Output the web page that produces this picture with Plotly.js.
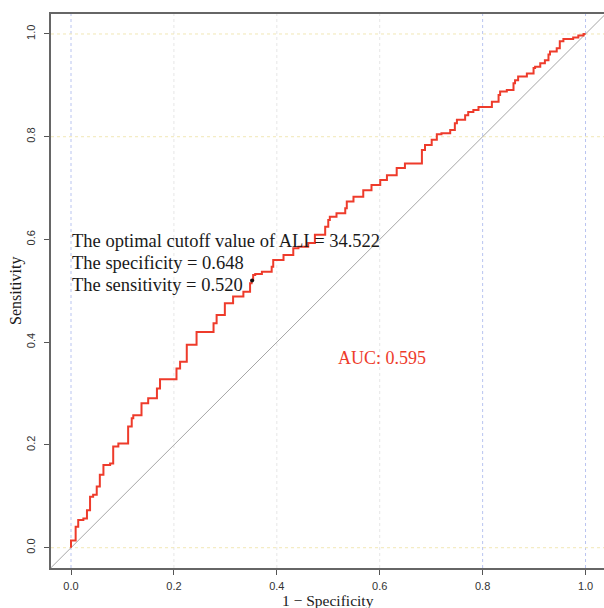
<!DOCTYPE html>
<html>
<head>
<meta charset="utf-8">
<script src="https://cdn.plot.ly/plotly-3.0.1.min.js"></script>
<style>html,body{margin:0;padding:0;background:#fff;overflow:hidden}</style>
</head>
<body>
<div id="chart" style="width:604px;height:608px"></div>
<script>
// ROC curve: 1 - specificity (x) and sensitivity (y)
const fpr = [0,0,0.009,0.009,0.014,0.024,0.031,0.037,0.043,0.050,0.056,0.063,0.076,0.082,0.092,0.111,0.118,0.121,0.137,0.150,0.167,0.173,0.185,0.205,0.212,0.225,0.244,0.264,0.277,0.283,0.299,0.315,0.335,0.348,0.351,0.354,0.358,0.371,0.390,0.393,0.413,0.432,0.442,0.461,0.474,0.494,0.500,0.503,0.516,0.533,0.536,0.549,0.568,0.584,0.601,0.614,0.633,0.649,0.662,0.682,0.688,0.701,0.711,0.720,0.737,0.746,0.750,0.766,0.772,0.782,0.792,0.795,0.818,0.831,0.834,0.847,0.860,0.863,0.869,0.886,0.899,0.902,0.912,0.921,0.928,0.931,0.944,0.950,0.957,0.976,0.986,0.996,1.0];
const tpr = [0,0.014,0.014,0.034,0.041,0.054,0.057,0.073,0.099,0.103,0.119,0.142,0.161,0.164,0.197,0.203,0.236,0.252,0.258,0.281,0.291,0.310,0.328,0.328,0.349,0.362,0.395,0.420,0.420,0.437,0.453,0.476,0.489,0.498,0.515,0.521,0.531,0.533,0.537,0.547,0.560,0.570,0.583,0.586,0.593,0.609,0.625,0.638,0.644,0.651,0.661,0.674,0.683,0.696,0.706,0.716,0.725,0.739,0.748,0.748,0.774,0.784,0.794,0.805,0.807,0.813,0.826,0.833,0.842,0.848,0.852,0.858,0.858,0.868,0.881,0.888,0.891,0.904,0.910,0.917,0.923,0.934,0.936,0.943,0.949,0.960,0.966,0.972,0.986,0.990,0.993,0.997,1.0];
const cutoffX = [0.352];
const cutoffY = [0.520];
const tickVals = [0, 0.2, 0.4, 0.6, 0.8, 1.0];
const tickText = ["0.0", "0.2", "0.4", "0.6", "0.8", "1.0"];
const infoLines = ["The optimal cutoff value of ALI = 34.522", "The specificity = 0.648", "The sensitivity = 0.520"];
const aucText = "AUC: 0.595";
const blueGrid = [0, 0.8, 1.0];
const greyGrid = [0.2, 0.4, 0.6];
const yellowGrid = [0, 0.8, 1.0];

const red = '#ee3b2b';
const serif = '"Liberation Serif", "Times New Roman", serif';
const sans = '"Liberation Sans", Arial, sans-serif';

const traces = [
  {x: [-0.1, 1.2], y: [-0.1, 1.2], mode: 'lines', line: {color: '#a6a6a6', width: 1}, hoverinfo: 'skip'},
  {x: fpr, y: tpr, mode: 'lines', line: {color: red, width: 2, shape: 'vh'}},
  {x: cutoffX, y: cutoffY, mode: 'markers', marker: {color: '#111', size: 4}}
];

const shapes = [];
blueGrid.forEach(v => shapes.push({type: 'line', xref: 'x', yref: 'paper', x0: v, x1: v, y0: 0, y1: 1, layer: 'below', line: {color: '#b9c4f0', width: 1, dash: 'dot'}}));
greyGrid.forEach(v => shapes.push({type: 'line', xref: 'x', yref: 'paper', x0: v, x1: v, y0: 0, y1: 1, layer: 'below', line: {color: '#e6e6e6', width: 1, dash: 'dot'}}));
yellowGrid.forEach(v => shapes.push({type: 'line', xref: 'paper', yref: 'y', x0: 0, x1: 1, y0: v, y1: v, layer: 'below', line: {color: '#f1e7b5', width: 1, dash: 'dot'}}));

const annotations = [];
const lineY = [0.597, 0.554, 0.511];
infoLines.forEach((t, i) => annotations.push({x: 0.0, y: lineY[i], xref: 'x', yref: 'y', text: t, showarrow: false, xanchor: 'left', yanchor: 'middle', xshift: -1, font: {family: serif, size: 18.5, color: '#1a1a1a'}}));
annotations.push({x: 0.52, y: 0.370, xref: 'x', yref: 'y', xshift: -3, text: aucText, showarrow: false, xanchor: 'left', yanchor: 'middle', font: {family: serif, size: 18, color: red}});
annotations.push({x: 0.5, y: 0, xref: 'x', yref: 'paper', yshift: -32, text: '1 \u2212 Specificity', showarrow: false, xanchor: 'center', yanchor: 'middle', font: {family: serif, size: 15.5, color: '#1a1a1a'}});
annotations.push({x: 0, y: 0.5, xref: 'paper', yref: 'paper', xshift: -35, text: 'Sensitivity', textangle: -90, showarrow: false, xanchor: 'center', yanchor: 'middle', font: {family: serif, size: 16, color: '#1a1a1a'}});

const axisCommon = {
  tickvals: tickVals, ticktext: tickText, ticks: 'outside', ticklen: 5, tickwidth: 1, tickcolor: '#555',
  showgrid: false, zeroline: false, showline: true, linecolor: '#666', linewidth: 2, mirror: true,
  tickfont: {family: sans, size: 11, color: '#333'}, fixedrange: true
};

const layout = {
  width: 604, height: 608,
  margin: {l: 51, r: 0, t: 14, b: 40},
  paper_bgcolor: '#fff', plot_bgcolor: '#fff',
  showlegend: false,
  xaxis: Object.assign({}, axisCommon, {range: [-0.0389, 1.0359], ticklabelstandoff: 2}),
  yaxis: Object.assign({}, axisCommon, {range: [-0.0395, 1.0389], tickangle: -90, ticklabelstandoff: 5}),
  shapes: shapes,
  annotations: annotations
};

Plotly.newPlot('chart', traces, layout, {displayModeBar: false, staticPlot: true});
</script>
</body>
</html>
